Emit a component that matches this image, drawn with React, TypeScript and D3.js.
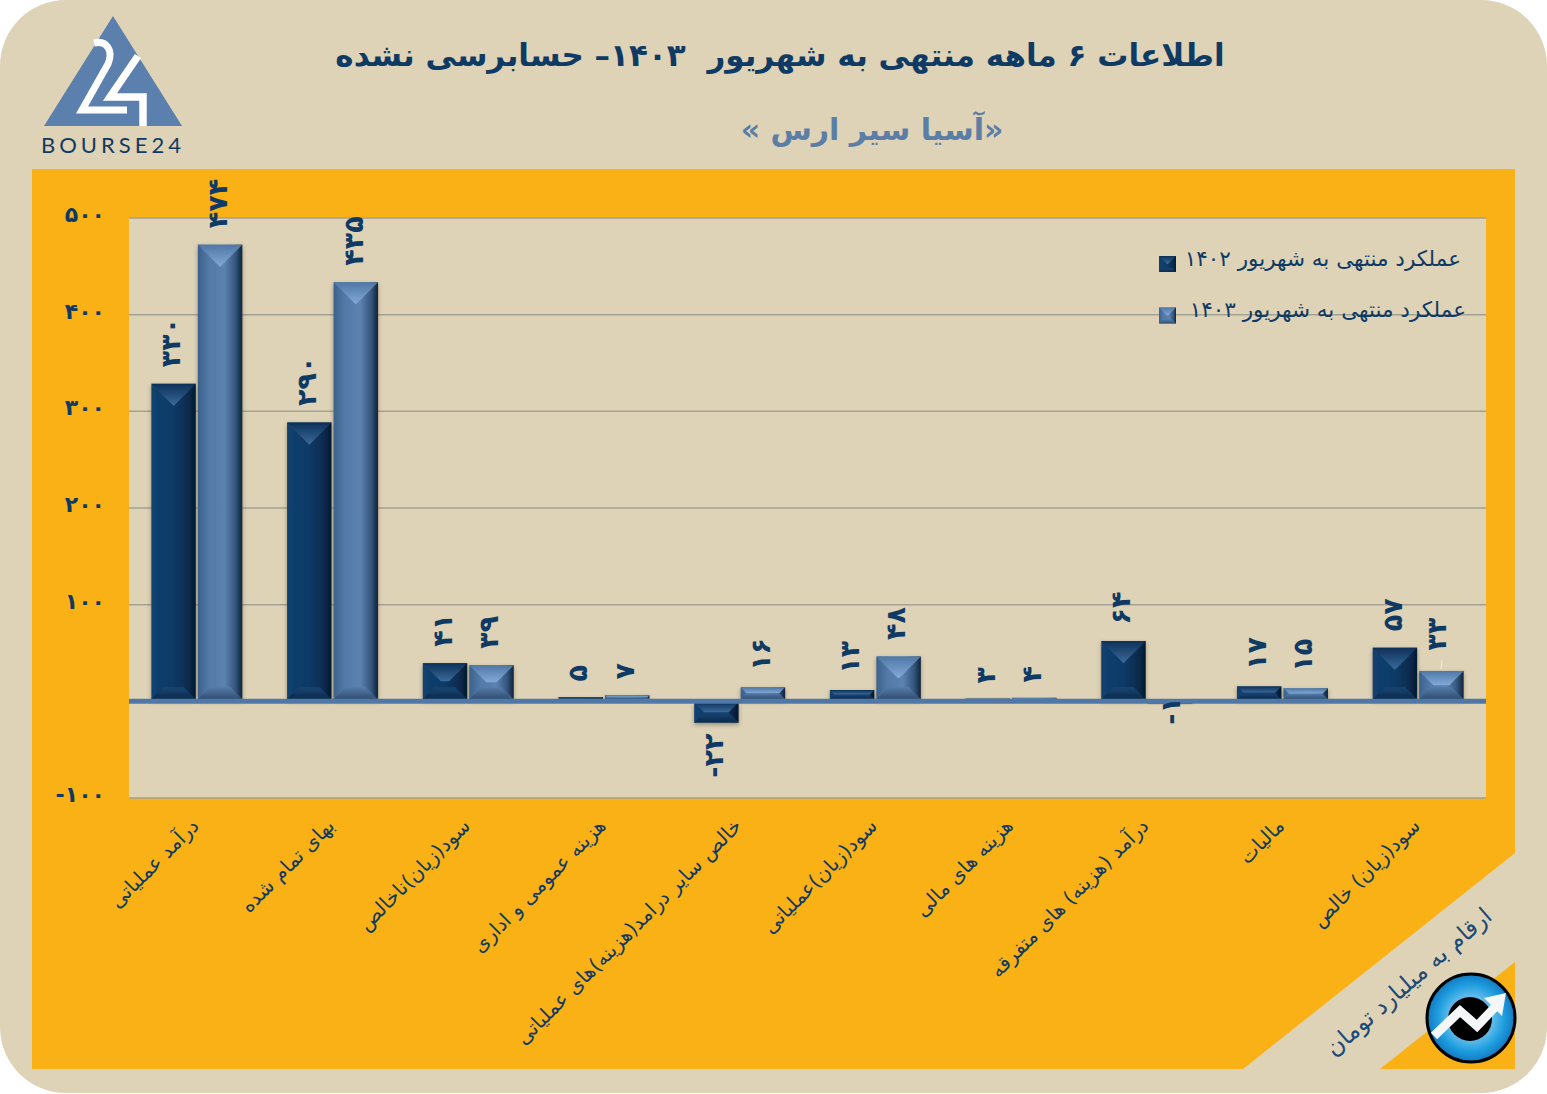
import React from "react";
import { scaleBand, scaleLinear } from "d3";

const categories = [
  "درآمد عملیاتی",
  "بهای تمام شده",
  "سود(زیان)ناخالص",
  "هزینه عمومی و اداری",
  "خالص سایر درامد(هزینه)های عملیاتی",
  "سود(زیان)عملیاتی",
  "هزینه های مالی",
  "درآمد (هزینه) های متفرقه",
  "مالیات",
  "سود(زیان) خالص",
];
const values1402 = [330, 290, 41, 5, -22, 13, 3, 64, 17, 57];
const values1403 = [474, 435, 39, 7, 16, 48, 4, -1, 15, 33];
const yTicks = [-100, 0, 100, 200, 300, 400, 500];
const legendLabels = ["عملکرد منتهی به شهریور ۱۴۰۲", "عملکرد منتهی به شهریور ۱۴۰۳"];

const width = 1547;
const height = 1094;
const plot = { left: 129, right: 1486, top: 218, bottom: 798 };
const FONT = "'DejaVu Sans', sans-serif";
const NAVY = "#0f3a63";

const toFa = (n: number) =>
  (n < 0 ? "-" : "") + String(Math.abs(n)).replace(/\d/g, (d) => "۰۱۲۳۴۵۶۷۸۹"[+d]);

const yScale = scaleLinear().domain([-100, 500]).range([plot.bottom, plot.top]);
const xScale = scaleBand<string>().domain(categories).range([plot.left, plot.right]);
const barW = 44.5;
const barGap = 2;

const Bevel = ({ x, y, w, h, series, topMax, botMax }: any) => {
  const topD = Math.min(topMax, h / 2);
  const botD = Math.min(botMax, h / 2);
  const r = x + w;
  const b = y + h;
  return (
    <>
      <rect x={x} y={y} width={w} height={h} fill={`url(#body${series})`} />
      <polygon
        points={`${x},${y} ${r},${y} ${r - topD},${y + topD} ${x + topD},${y + topD}`}
        fill={`url(#top${series})`}
      />
      <polygon
        points={`${x},${b} ${r},${b} ${r - botD},${b - botD} ${x + botD},${b - botD}`}
        fill={`url(#bottom${series})`}
      />
    </>
  );
};

const Bar = ({ x, value, series }: { x: number; value: number; series: string }) => {
  const y0 = yScale(0) + (value >= 0 ? -2 : 1);
  const y1 = yScale(value) + (value >= 0 ? Math.min(1.5, value * 0.1) : 0);
  const y = Math.min(y0, y1);
  const h = Math.max(Math.abs(y1 - y0), 1.5);
  return (
    <g filter="url(#barShadow)">
      <Bevel x={x} y={y} w={barW} h={h} series={series} topMax={22} botMax={12} />
    </g>
  );
};

const BarLabel = ({ x, value, i, series }: { x: number; value: number; i: number; series: string }) => {
  // two labels were moved by hand in the original
  const moved33 = series === "B" && i === 9;
  const movedMinus1 = series === "B" && i === 7;
  const cx = x + barW / 2 - (moved33 ? 2 : 0) + (movedMinus1 ? 3 : 0);
  let y = value >= 0 ? yScale(value) - 15 - (moved33 ? 4 : 0) : yScale(value) + 11;
  if (movedMinus1) y = 697;
  return (
    <text
      transform={`translate(${cx - 3},${y}) rotate(-90)`}
      textAnchor={value >= 0 ? "start" : "end"}
      dy="0.36em"
      fontFamily={FONT}
      fontWeight="bold"
      fontSize={27}
      fill={NAVY}
    >
      {toFa(value)}
    </text>
  );
};

const Logo = () => (
  <g>
    <polygon points="113,16 182,126 44,126" fill="#5b80ad" />
    <path
      d="M94,43 C106,40 114,50 108,64 L82,110 L127,110"
      fill="none"
      stroke="#fff"
      strokeWidth={7}
    />
    <path d="M138,56 L110,97 L143,97 L143,126" fill="none" stroke="#fff" strokeWidth={7.5} />
    <text
      x={113}
      y={153}
      textAnchor="middle"
      fontFamily="Lato, sans-serif"
      fontSize={22}
      letterSpacing={4}
      fill={NAVY}
    >
      BOURSE24
    </text>
  </g>
);

const Badge = () => (
  <g>
    <circle cx={1471} cy={1018} r={44} fill="url(#badge)" stroke="#000" strokeWidth={3} />
    <circle cx={1470} cy={1019} r={22} fill="#000" />
    <path
      d="M1434,1036 L1460,1011 L1477,1026 L1497,1005"
      fill="none"
      stroke="#f4f6f8"
      strokeWidth={9}
    />
    <polygon points="1506,993 1502,1016 1484,998" fill="#f4f6f8" />
  </g>
);

export default function App() {
  return (
    <svg
      width={width}
      height={height}
      style={{ position: "absolute", left: 0, top: 0, background: "#fff" }}
    >
      <defs>
        <linearGradient id="bodyA">
          <stop offset="0" stopColor="#12406e" />
          <stop offset="0.5" stopColor="#0e3a66" />
          <stop offset="0.8" stopColor="#0a2c50" />
          <stop offset="1" stopColor="#041a30" />
        </linearGradient>
        <linearGradient id="bodyB">
          <stop offset="0" stopColor="#3b618c" />
          <stop offset="0.25" stopColor="#537aa8" />
          <stop offset="0.6" stopColor="#5c82b0" />
          <stop offset="0.85" stopColor="#34557c" />
          <stop offset="1" stopColor="#0f2338" />
        </linearGradient>
        <linearGradient id="topA" x2="0" y2="1">
          <stop offset="0" stopColor="#0c3158" />
          <stop offset="1" stopColor="#3c6a9c" />
        </linearGradient>
        <linearGradient id="topB" x2="0" y2="1">
          <stop offset="0" stopColor="#4f77a5" />
          <stop offset="1" stopColor="#83a9d8" />
        </linearGradient>
        <linearGradient id="bottomA" x2="0" y2="1">
          <stop offset="0" stopColor="#184572" />
          <stop offset="1" stopColor="#0a2a4c" />
        </linearGradient>
        <linearGradient id="bottomB" x2="0" y2="1">
          <stop offset="0" stopColor="#557ba8" />
          <stop offset="1" stopColor="#2f4d70" />
        </linearGradient>
        <radialGradient id="badge">
          <stop offset="0.4" stopColor="#7cc6ee" />
          <stop offset="0.75" stopColor="#1f9fe0" />
          <stop offset="1" stopColor="#1178c0" />
        </radialGradient>
        <filter id="barShadow" x="-20%" y="-50%" width="140%" height="200%">
          <feDropShadow dx={0} dy={2} stdDeviation={2} floodColor="#3a3a30" floodOpacity={0.45} />
        </filter>
      </defs>

      <rect x={0} y={0} width={width} height={1093} rx={66} fill="#dfd3b7" />
      <polygon points="32,169 1515,169 1515,853 1243,1069 32,1069" fill="#f9b115" />
      <polygon points="1515,962 1515,1069 1380,1069" fill="#f9b115" />
      <rect
        x={plot.left}
        y={plot.top}
        width={plot.right - plot.left}
        height={plot.bottom - plot.top}
        fill="#dfd3b7"
      />

      <Logo />
      <text
        x={780}
        y={66}
        textAnchor="middle"
        direction="rtl"
        fontFamily={FONT}
        fontWeight="bold"
        fontSize={31}
        fill={NAVY}
        style={{ whiteSpace: "pre" }}
      >
        اطلاعات ۶ ماهه منتهی به شهریور  ۱۴۰۳– حسابرسی نشده
      </text>
      <text
        x={872}
        y={140}
        textAnchor="middle"
        direction="rtl"
        fontFamily={FONT}
        fontWeight="bold"
        fontSize={30}
        fill="#5b7ea6"
      >
        «آسیا سیر ارس »
      </text>

      {yTicks.map((t) =>
        t === 0 ? null : (
          <g key={t}>
            <line
              x1={plot.left}
              x2={plot.right}
              y1={yScale(t)}
              y2={yScale(t)}
              stroke="#a3a193"
              strokeWidth={1.5}
            />
            <text
              x={105}
              y={yScale(t) - 4}
              textAnchor="end"
              dy="0.36em"
              fontFamily={FONT}
              fontWeight="bold"
              fontSize={22}
              fill={NAVY}
            >
              {toFa(t)}
            </text>
          </g>
        ),
      )}

      {categories.map((c, i) => {
        const center = (xScale(c) as number) + xScale.bandwidth() / 2;
        return (
          <g key={c}>
            <Bar x={center - barGap / 2 - barW} value={values1402[i]} series="A" />
            <Bar x={center + barGap / 2} value={values1403[i]} series="B" />
          </g>
        );
      })}

      <line
        x1={plot.left}
        x2={plot.right}
        y1={yScale(0)}
        y2={yScale(0)}
        stroke="#4f78a8"
        strokeWidth={5}
      />

      {categories.map((c, i) => {
        const center = (xScale(c) as number) + xScale.bandwidth() / 2;
        return (
          <g key={c}>
            <BarLabel x={center - barGap / 2 - barW} value={values1402[i]} i={i} series="A" />
            <BarLabel x={center + barGap / 2} value={values1403[i]} i={i} series="B" />
            <text
              transform={`translate(${center - 2},${822}) rotate(-45)`}
              textAnchor="start"
              direction="rtl"
              dy="0.36em"
              fontFamily={FONT}
              fontSize={20}
              fill={NAVY}
            >
              {c}
            </text>
          </g>
        );
      })}
      <line x1={1442} x2={1441} y1={660} y2={669} stroke="#f4efe2" strokeWidth={1} />

      {legendLabels.map((label, i) => {
        const y = 264 + i * 51.5;
        return (
          <g key={label}>
            <Bevel
              x={1159}
              y={y - 8}
              w={17}
              h={16}
              series={i === 0 ? "A" : "B"}
              topMax={8}
              botMax={4}
            />
            <text
              x={i === 0 ? 1461 : 1466}
              y={y - 6}
              textAnchor="start"
              direction="rtl"
              dy="0.36em"
              fontFamily={FONT}
              fontSize={21.5}
              fill={NAVY}
            >
              {label}
            </text>
          </g>
        );
      })}

      <text
        transform="translate(1488,912) rotate(-41)"
        textAnchor="start"
        direction="rtl"
        dy="0.36em"
        fontFamily={FONT}
        fontSize={23.5}
        fill="#1c4a75"
      >
        ارقام به میلیارد تومان
      </text>
      <Badge />
    </svg>
  );
}
